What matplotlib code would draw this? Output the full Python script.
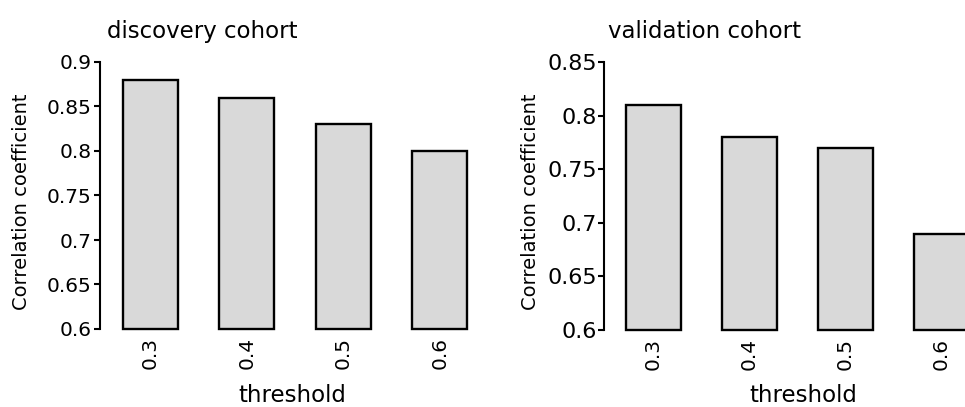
import numpy as np
import matplotlib
matplotlib.use("Agg")
import matplotlib.pyplot as plt

# values
thresholds = ["0.3", "0.4", "0.5", "0.6"]
discovery = [0.88, 0.86, 0.83, 0.80]
validation = [0.81, 0.78, 0.77, 0.69]
disc_ticks = [0.6, 0.65, 0.7, 0.75, 0.8, 0.85, 0.9]
disc_ticklabels = ["0.6", "0.65", "0.7", "0.75", "0.8", "0.85", "0.9"]
val_ticks = [0.6, 0.65, 0.7, 0.75, 0.8, 0.85]
val_ticklabels = ["0.6", "0.65", "0.7", "0.75", "0.8", "0.85"]

W, H = 965, 407
fig = plt.figure(figsize=(W / 100, H / 100), dpi=100)
plt.rcParams['font.family'] = ['DejaVu Sans']

def px(x0, y_top, x1, y_bot):
    # pixel box -> figure fraction rect
    return [x0 / W, (H - y_bot) / H, (x1 - x0) / W, (y_bot - y_top) / H]

def panel(rect, vals, ymax, ticks, ticklabels, xlim, ytick_size, ypad):
    ax = fig.add_axes(rect)
    x = np.arange(len(vals))
    ax.bar(x, np.array(vals) - 0.6, bottom=0.6, width=0.57, color='#d9d9d9',
           edgecolor='black', linewidth=1.7, clip_on=False)
    ax.set_xlim(*xlim)
    ax.set_ylim(0.6, ymax)
    for s in ['top', 'right', 'bottom']:
        ax.spines[s].set_visible(False)
    ax.spines['left'].set_linewidth(1.5)
    ax.set_yticks(ticks)
    ax.set_yticklabels(ticklabels, fontsize=ytick_size)
    ax.tick_params(axis='y', length=4, width=1.5, pad=ypad)
    ax.set_xticks(x)
    ax.set_xticklabels(thresholds, rotation=90, fontsize=14.5)
    ax.tick_params(axis='x', length=0, pad=6)
    return ax

panel(px(100, 62, 480, 329), discovery, 0.9, disc_ticks, disc_ticklabels,
      (-0.524, 3.418), 14.5, 2)
panel(px(604, 62, 965, 330), validation, 0.85, val_ticks, val_ticklabels,
      (-0.516, 3.245), 16, 1)

# titles, axis labels
fig.text(202 / W, (H - 38) / H, "discovery cohort", fontsize=16.5, ha='center', va='baseline')
fig.text(705 / W, (H - 38) / H, "validation cohort", fontsize=16.5, ha='center', va='baseline')
fig.text(292 / W, (H - 402) / H, "threshold", fontsize=16.5, ha='center', va='baseline')
fig.text(803 / W, (H - 402) / H, "threshold", fontsize=16.5, ha='center', va='baseline')
fig.text(22 / W, (H - 202) / H, "Correlation coefficient", fontsize=14, rotation=90,
         ha='center', va='center')
fig.text(531 / W, (H - 202) / H, "Correlation coefficient", fontsize=14, rotation=90,
         ha='center', va='center')

fig.savefig("out.png", dpi=100)
